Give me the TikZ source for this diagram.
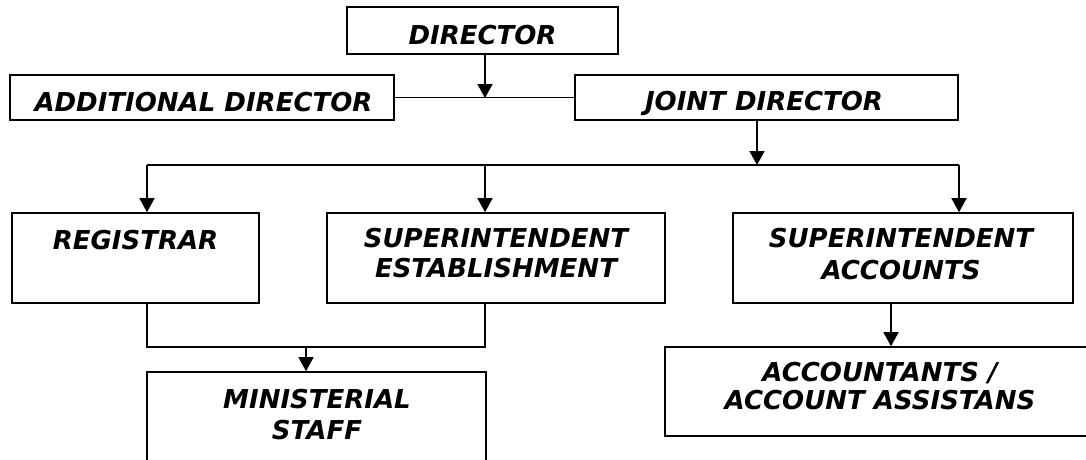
\documentclass[tikz,border=0pt]{standalone}
\usepackage{fontspec}
\setmainfont{DejaVu Sans}
\usetikzlibrary{arrows.meta}
\begin{document}
\begin{tikzpicture}[x=1pt,y=-1pt,
  box/.style={draw, line width=1.6pt, rectangle, inner sep=0pt},
  lbl/.style={inner sep=0pt, align=center, font=\fontsize{26}{31}\selectfont\bfseries\itshape},
  conn/.style={line width=1.6pt},
  arr/.style={line width=1.6pt, -{Triangle[width=15pt,length=14pt]}}]
\useasboundingbox (0,0) rectangle (1086,460);
% boxes
\node[box, minimum width=271, minimum height=47] (dir) at (482.5,30.5) {};
\node[box, minimum width=384, minimum height=45] (add) at (202,97.5) {};
\node[box, minimum width=383, minimum height=45] (jd) at (766.5,97.5) {};
\node[box, minimum width=247, minimum height=90] (reg) at (135.5,258) {};
\node[box, minimum width=338, minimum height=90] (se) at (496,258) {};
\node[box, minimum width=340, minimum height=90] (sa) at (903,258) {};
\node[box, minimum width=339, minimum height=93] (ms) at (316.5,418.5) {};
\node[box, minimum width=430, minimum height=89] (acc) at (880,391.5) {};
% texts
\node[lbl, text depth=0pt] (dirT) at (482.5,34.5) {DIRECTOR};
\node[lbl, text depth=0pt] (addT) at (203.5,101.7) {ADDITIONAL DIRECTOR};
\node[lbl, text depth=0pt] (jdT) at (764,101) {JOINT DIRECTOR};
\node[lbl, text depth=0pt] (regT) at (135.5,240) {REGISTRAR};
\node[lbl, font=\fontsize{26}{30.5}\selectfont\bfseries\itshape] (seT) at (496,253.2) {SUPERINTENDENT\\ESTABLISHMENT};
\node[lbl, font=\fontsize{26}{32}\selectfont\bfseries\itshape] (saT) at (901,254) {SUPERINTENDENT\\ACCOUNTS};
\node[lbl, font=\fontsize{26}{31}\selectfont\bfseries\itshape] (msT) at (317,414.5) {MINISTERIAL\\STAFF};
\node[lbl, font=\fontsize{26}{28}\selectfont\bfseries\itshape] (accT) at (880,386) {ACCOUNTANTS /\\ACCOUNT ASSISTANS};
% junction coordinates
\coordinate (j1) at (485,98);
\coordinate (bl) at (147,165);
\coordinate (bm) at (485,165);
\coordinate (bj) at (757,165);
\coordinate (br) at (959,165);
\coordinate (ml) at (147,347);
\coordinate (mm) at (306,347);
\coordinate (mr) at (485,347);
\coordinate (sx) at (891,303);
% connectors
\draw[conn] (add.east) -- (jd.west);
\draw[arr] (dir.south -| j1) -- (j1);
\draw[arr] (jd.south -| bj) -- (bj);
\draw[conn] (bl) -- (br);
\draw[arr] (bl) -- (bl |- reg.north);
\draw[arr] (bm) -- (bm |- se.north);
\draw[arr] (br) -- (br |- sa.north);
\draw[conn] (ml |- reg.south) -- (ml) -- (mr) -- (mr |- se.south);
\draw[arr] (mm) -- (mm |- ms.north);
\draw[arr] (sx |- sa.south) -- (sx |- acc.north);
\end{tikzpicture}
\end{document}
